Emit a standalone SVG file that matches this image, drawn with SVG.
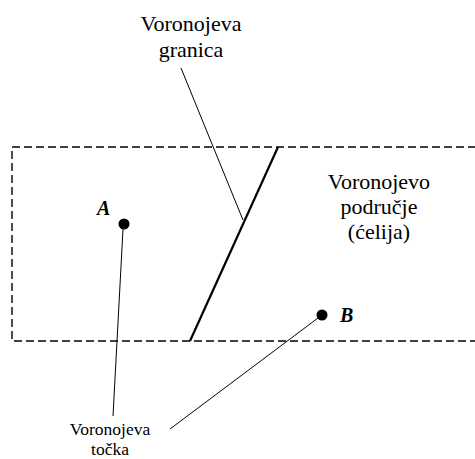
<svg xmlns="http://www.w3.org/2000/svg" width="475" height="459" viewBox="0 0 475 459">
<style>
.t{text-anchor:middle;fill:#000}
.lbl{font-size:22px}
.sm{font-size:17.5px}
.pt{font-weight:bold;font-style:italic;font-size:20px;fill:#000}
.lead{stroke:#000;stroke-width:1;fill:none}
</style>
<rect width="475" height="459" fill="#fff"/>
<g id="cell-frame">
<path d="M476,147 H12 V341 H476" fill="none" stroke="#000" stroke-width="1.4" stroke-dasharray="8,4"/>
</g>
<g id="boundary">
<line x1="278" y1="147" x2="190" y2="341" stroke="#000" stroke-width="2.2"/>
</g>
<g id="point-A">
<circle cx="124" cy="224" r="5.5" fill="#000"/>
<text class="pt" x="97" y="215" font-family="Liberation Serif">A</text>
</g>
<g id="point-B">
<circle cx="322" cy="315" r="5.5" fill="#000"/>
<text class="pt" x="340" y="322" font-family="Liberation Serif">B</text>
</g>
<g id="label-granica">
<text class="t lbl" x="191" y="31" font-family="Liberation Serif">Voronojeva</text>
<text class="t lbl" x="191" y="57" font-family="Liberation Serif">granica</text>
</g>
<g id="label-podrucje">
<text class="t lbl" x="379" y="189" font-family="Liberation Serif">Voronojevo</text>
<text class="t lbl" x="379" y="214" font-family="Liberation Serif">područje</text>
<text class="t lbl" x="379" y="239" font-family="Liberation Serif">(ćelija)</text>
</g>
<g id="label-tocka">
<text class="t sm" x="110" y="435" font-family="Liberation Serif">Voronojeva</text>
<text class="t sm" x="110" y="455" font-family="Liberation Serif">točka</text>
</g>
<g id="connectors">
<line class="lead" x1="181" y1="68" x2="243" y2="220"/>
<line class="lead" x1="123" y1="229" x2="113" y2="416"/>
<line class="lead" x1="318" y1="318" x2="170" y2="429"/>
</g>
</svg>
